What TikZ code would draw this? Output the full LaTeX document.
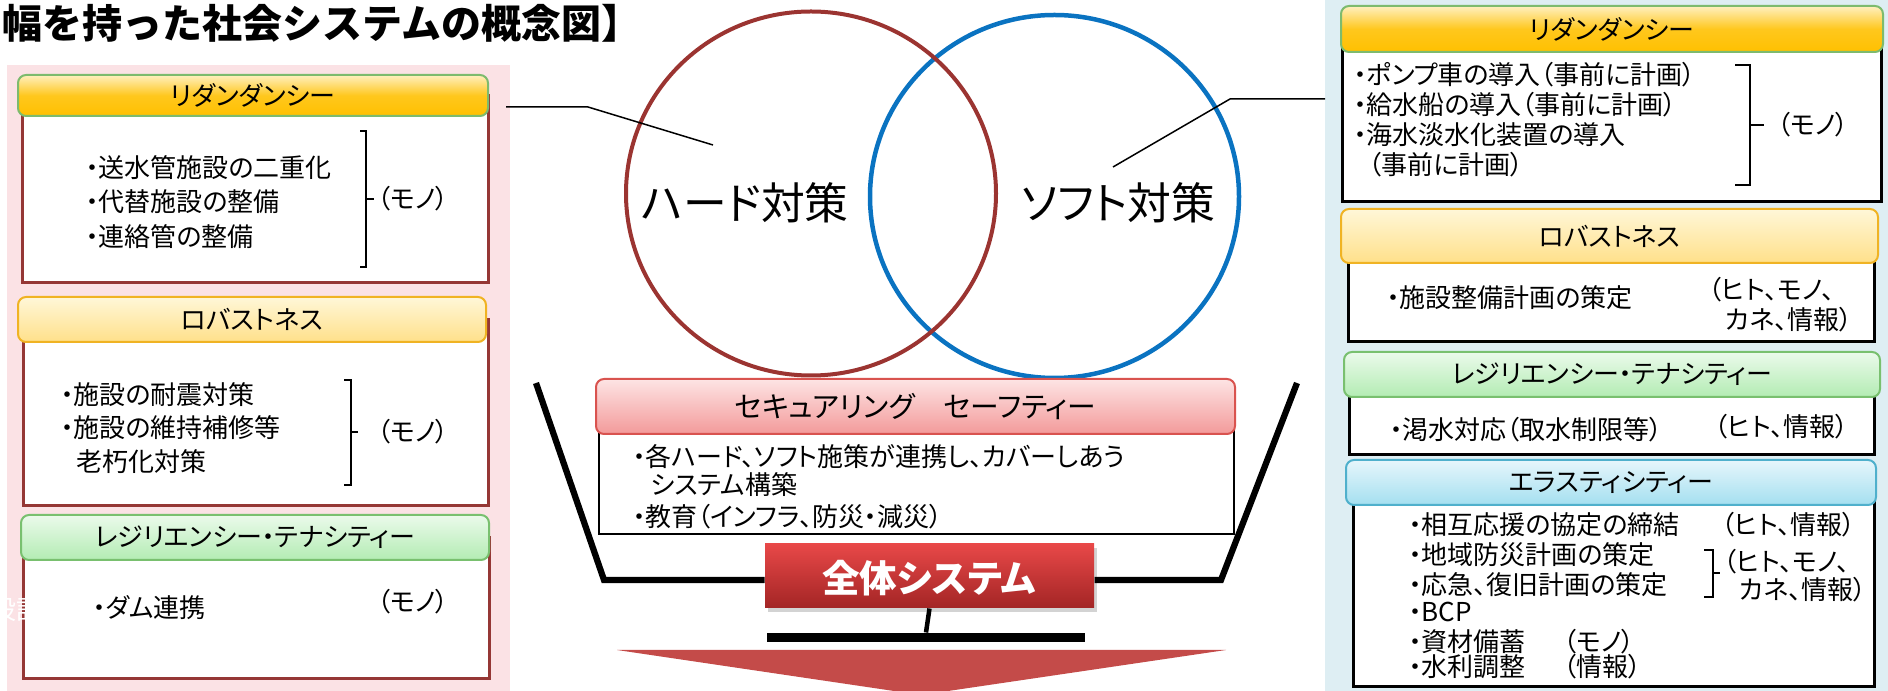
\documentclass[tikz,border=0pt]{standalone}
\usepackage{fontspec}
\setmainfont{Noto Sans CJK JP}[RawFeature=+palt]
\newfontfamily\titlefont{Noto Sans CJK JP}
\usetikzlibrary{shapes.geometric,fit,shadows}
\definecolor{pinkbg}{HTML}{FBE2E5}
\definecolor{bluebg}{HTML}{DEEEF3}
\definecolor{darkred}{HTML}{953735}
\definecolor{grnborder}{HTML}{7DBB6E}
\definecolor{orgtop}{HTML}{FFF0C0}
\definecolor{orgbot}{HTML}{FFC000}
\definecolor{robtop}{HTML}{FFF7D8}
\definecolor{robbot}{HTML}{FFE08A}
\definecolor{robborder}{HTML}{F0B323}
\definecolor{restop}{HTML}{EBFAEB}
\definecolor{resbot}{HTML}{B3ECB3}
\definecolor{resborder}{HTML}{79C06F}
\definecolor{eltop}{HTML}{E6F6FB}
\definecolor{elbot}{HTML}{A4DFF0}
\definecolor{elborder}{HTML}{4FB0CC}
\definecolor{sectop}{HTML}{FDE4E4}
\definecolor{secbot}{HTML}{F39A9A}
\definecolor{secborder}{HTML}{D9534F}
\definecolor{zentop}{HTML}{E84848}
\definecolor{zenbot}{HTML}{A32525}
\definecolor{arrowred}{HTML}{C44B49}
\definecolor{hardred}{HTML}{9B3431}
\definecolor{softblue}{HTML}{0A73C1}
\begin{document}
\begin{tikzpicture}[x=0.4pt,y=-0.4pt,
  body/.style={draw, fill=white, line width=1.2pt, inner sep=0pt},
  hdr/.style={draw, rounded corners=3.2pt, line width=0.8pt, inner sep=0pt},
  hdrtxt/.style={inner sep=0pt, font=\fontsize{10.4}{12}\selectfont},
  item/.style={anchor=west, inner sep=0pt, font=\fontsize{10.4}{12}\selectfont},
  brk/.style={line width=0.6pt},
  conn/.style={line width=0.6pt},
  bowlline/.style={line width=2.5pt, line join=miter},
  orghdr/.style={hdr, draw=grnborder, top color=orgtop, bottom color=orgbot, middle color=orgbot!85!orgtop},
  robhdr/.style={hdr, draw=robborder, top color=robtop, bottom color=robbot},
  reshdr/.style={hdr, draw=resborder, top color=restop, bottom color=resbot},
  elhdr/.style={hdr, draw=elborder, top color=eltop, bottom color=elbot}
]
\useasboundingbox (0,0) rectangle (1888,691);
% background panels
\node[fit={(7,65) (510,691)}, inner sep=0pt, fill=pinkbg] (lpanel) {};
\node[fit={(1325,0) (1888,691)}, inner sep=0pt, fill=bluebg] (rpanel) {};
% title
\node[anchor=west, inner sep=0pt, font=\titlefont\bfseries\fontsize{16}{18}\selectfont] (title) at (2,23) {幅を持った社会システムの概念図】};

% ---------- left column ----------
\node[body, draw=darkred, fit={(22,96) (488,283)}] (bL1) {};
\node[orghdr, fit={(18,75) (488,116)}] (hL1) {};
\node[hdrtxt] (hL1t) at (hL1) {リダンダンシー};
\node[item] (l1a) at (85,168) {・送水管施設の二重化};
\node[item] (l1b) at (85,202) {・代替施設の整備};
\node[item] (l1c) at (85,237) {・連絡管の整備};
\draw[brk] (360,131) -- (366,131) -- (366,267) -- (360,267) (366,199) -- (374,199);
\node[item] (l1m) at (377,199) {（モノ）};

\node[body, draw=darkred, fit={(23,320) (488,506)}] (bL2) {};
\node[robhdr, fit={(18,297) (486,342)}] (hL2) {};
\node[hdrtxt] (hL2t) at (hL2) {ロバストネス};
\node[item] (l2a) at (60,395) {・施設の耐震対策};
\node[item] (l2b) at (60,428) {・施設の維持補修等};
\node[item] (l2c) at (76,462) {老朽化対策};
\draw[brk] (344,380) -- (351,380) -- (351,485) -- (344,485) (351,432) -- (358,432);
\node[item] (l2m) at (377,432) {（モノ）};

\node[body, draw=darkred, fit={(23,538) (489,679)}] (bL3) {};
\node[reshdr, fit={(21,515) (489,560)}] (hL3) {};
\node[hdrtxt] (hL3t) at (hL3) {レジリエンシー・テナシティー};
\node[item] (l3a) at (92,608) {・ダム連携};
\node[item] (l3m) at (377,602) {（モノ）};
\node[anchor=west, inner sep=0pt, text=white, font=\fontsize{10.4}{12}\selectfont] (ghost) at (-10,610) {設計};

% ---------- circles ----------
\node[ellipse, draw=softblue, line width=1.8pt, minimum width=147.6pt, minimum height=145.2pt, inner sep=0pt] (soft) at (1054.5,196.5) {};
\node[ellipse, draw=hardred, line width=1.6pt, minimum width=148pt, minimum height=145.6pt, inner sep=0pt] (hard) at (811,193.5) {};
\node[inner sep=0pt, font=\fontsize{17.5}{20}\selectfont] (hardtxt) at (745,203) {ハード対策};
\node[inner sep=0pt, font=\fontsize{17.5}{20}\selectfont] (softtxt) at (1118,203) {ソフト対策};

% connectors
\coordinate (lcA) at (506,107);
\coordinate (lcB) at (588,107);
\coordinate (lcC) at (713,145);
\draw[conn] (lcA) -- (lcB) -- (lcC);
\coordinate (rcA) at (1113,167);
\coordinate (rcB) at (1230,99);
\coordinate (rcC) at (1325,99);
\draw[conn] (rcA) -- (rcB) -- (rcC);

% ---------- centre: bowl ----------
\node[fit={(765,544) (1094,608)}, inner sep=0pt, top color=zentop, bottom color=zenbot,
  drop shadow={opacity=0.35, shadow xshift=1pt, shadow yshift=-1.5pt}] (zentai) {};
\node[inner sep=0pt, text=white, font=\bfseries\fontsize{15}{18}\selectfont] (zentait) at (929,578) {全体システム};
\coordinate (bowlL1) at (536,383);
\coordinate (bowlL2) at (604,580);
\coordinate (bowlR1) at (1297,383);
\coordinate (bowlR2) at (1221,580);
\draw[bowlline] (bowlL1) -- (bowlL2) -- (zentai.west |- bowlL2);
\draw[bowlline] (bowlR1) -- (bowlR2) -- (zentai.east |- bowlR2);
\node[fit={(767,633) (1085,642)}, inner sep=0pt, fill=black] (base) {};
\draw[line width=1.8pt] (zentai.south) -- (base.north);
\fill[arrowred] (617,650) -- (1226,650) -- (921,695) -- cycle;

\node[body, draw=black, line width=1pt, fit={(599,407) (1234,534)}] (bS) {};
\node[hdr, draw=secborder, top color=sectop, bottom color=secbot, fit={(596,379) (1235,434)}] (hS) {};
\node[inner sep=0pt, font=\fontsize{11.5}{13}\selectfont] (hSt) at (hS) {セキュアリング　セーフティー};
\node[item] (s1) at (632,457) {・各ハード、ソフト施策が連携し、カバーしあう};
\node[item] (s2) at (650,485) {システム構築};
\node[item] (s3) at (632,517) {・教育（インフラ、防災・減災）};

% ---------- right column ----------
\node[body, draw=black, fit={(1342,29) (1881,202)}] (bR1) {};
\node[orghdr, fit={(1341,6) (1883,52)}] (hR1) {};
\node[hdrtxt] (hR1t) at (hR1) {リダンダンシー};
\node[item] (r1a) at (1353,75) {・ポンプ車の導入（事前に計画）};
\node[item] (r1b) at (1353,105) {・給水船の導入（事前に計画）};
\node[item] (r1c) at (1353,135) {・海水淡水化装置の導入};
\node[item] (r1d) at (1368,165) {（事前に計画）};
\draw[brk] (1735,65) -- (1750,65) -- (1750,185) -- (1735,185) (1750,125) -- (1764,125);
\node[item] (r1m) at (1777,125) {（モノ）};

\node[body, draw=black, fit={(1348,236) (1874,342)}] (bR2) {};
\node[robhdr, fit={(1341,209) (1878,263)}] (hR2) {};
\node[hdrtxt] (hR2t) at (hR2) {ロバストネス};
\node[item] (r2a) at (1386,298) {・施設整備計画の策定};
\node[item] (r2m1) at (1708,290) {（ヒト、モノ、};
\node[item] (r2m2) at (1725,320) {カネ、情報）};

\node[body, draw=black, fit={(1349,375) (1874,455)}] (bR3) {};
\node[reshdr, fit={(1344,352) (1880,397)}] (hR3) {};
\node[hdrtxt] (hR3t) at (hR3) {レジリエンシー・テナシティー};
\node[item] (r3a) at (1389,430) {・渇水対応（取水制限等）};
\node[item] (r3m) at (1714,427) {（ヒト、情報）};

\node[body, draw=black, fit={(1353,483) (1874,687)}] (bR4) {};
\node[elhdr, fit={(1346,460) (1876,505)}] (hR4) {};
\node[hdrtxt] (hR4t) at (hR4) {エラスティシティー};
\node[item] (r4a) at (1408,525) {・相互応援の協定の締結};
\node[item] (r4b) at (1408,555) {・地域防災計画の策定};
\node[item] (r4c) at (1408,585) {・応急、復旧計画の策定};
\node[item] (r4d) at (1408,612) {・BCP};
\node[item] (r4e) at (1408,642) {・資材備蓄};
\node[item] (r4f) at (1408,667) {・水利調整};
\node[item] (r4m1) at (1721,525) {（ヒト、情報）};
\draw[brk] (1704,550) -- (1713,550) -- (1713,597) -- (1704,597) (1713,573) -- (1720,573);
\node[item] (r4m2) at (1723,562) {（ヒト、モノ、};
\node[item] (r4m3) at (1739,590) {カネ、情報）};
\node[item] (r4m4) at (1563,642) {（モノ）};
\node[item] (r4m5) at (1563,667) {（情報）};
\end{tikzpicture}
\end{document}
